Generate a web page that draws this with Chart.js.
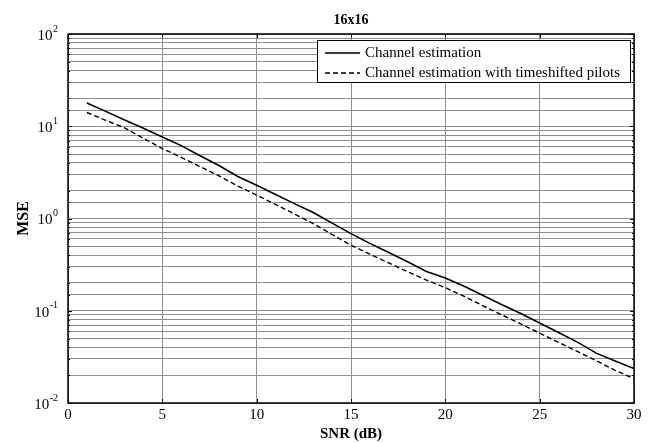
<!DOCTYPE html>
<html lang="en">
<head>
    <meta charset="UTF-8">
    <title>16x16 - MSE vs SNR</title>
    <style>
        body { margin: 0; background: #ffffff; }
        #wrap { width: 651px; height: 443px; }
    </style>
</head>
<body>
    <div id="wrap"><canvas id="mseChart" width="651" height="443"></canvas></div>

    <script src="https://cdn.jsdelivr.net/npm/chart.js@4/dist/chart.umd.min.js"></script>
    <script>
        // data
        const snr = [1, 2, 3, 4, 5, 6, 7, 8, 9, 10, 11, 12, 13, 14, 15,
                     16, 17, 18, 19, 20, 21, 22, 23, 24, 25, 26, 27, 28, 29, 30];
        const mseEstimation = [17.9, 14.5, 11.7, 9.5, 7.65, 6.17, 4.79, 3.76, 2.85, 2.29,
                               1.82, 1.45, 1.16, 0.89, 0.686, 0.537, 0.427, 0.339, 0.266, 0.226,
                               0.184, 0.146, 0.116, 0.0933, 0.0736, 0.0582, 0.0457, 0.0347, 0.0285, 0.0236];
        const mseTimeshifted = [14.1, 11.6, 9.6, 7.4, 5.73, 4.6, 3.65, 2.9, 2.25, 1.79,
                                1.42, 1.12, 0.88, 0.67, 0.513, 0.41, 0.33, 0.265, 0.215, 0.178,
                                0.143, 0.113, 0.09, 0.072, 0.0573, 0.0455, 0.0362, 0.0288, 0.0226, 0.0183];
        const seriesNames = ['Channel estimation', 'Channel estimation with timeshifted pilots'];
        const xTicks = [0, 5, 10, 15, 20, 25, 30];
        const yDecades = [-2, -1, 0, 1, 2];

        const serif = '"Liberation Serif", "Times New Roman", serif';
        const gridGray = '#8f8f8f';

        // MATLAB-ish frame: box, inward ticks, 10^n labels, title, legend
        const matlabLook = {
            id: 'matlabLook',
            afterDraw(chart) {
                const c = chart.ctx;
                const a = chart.chartArea;
                const xs = chart.scales.x, ys = chart.scales.y;
                c.save();

                // inward tick marks
                c.strokeStyle = '#000';
                c.lineWidth = 1;
                c.beginPath();
                xTicks.forEach(v => {
                    const px = Math.round(xs.getPixelForValue(v)) + 0.5;
                    c.moveTo(px, a.bottom); c.lineTo(px, a.bottom - 4);
                    c.moveTo(px, a.top); c.lineTo(px, a.top + 4);
                });
                ys.ticks.forEach(t => {
                    const py = Math.round(ys.getPixelForValue(t.value)) + 0.5;
                    const lg = Math.log10(t.value);
                    const len = Math.abs(lg - Math.round(lg)) < 1e-6 ? 4 : 2;
                    c.moveTo(a.left, py); c.lineTo(a.left + len, py);
                    c.moveTo(a.right, py); c.lineTo(a.right - len, py);
                });
                c.stroke();

                // frame
                c.lineWidth = 1.5;
                c.strokeRect(a.left, a.top, a.right - a.left, a.bottom - a.top);

                // y labels as 10 with superscript exponent
                c.fillStyle = '#000';
                c.textBaseline = 'middle';
                yDecades.forEach(e => {
                    const py = ys.getPixelForValue(Math.pow(10, e));
                    const expText = e < 0 ? '-' + Math.abs(e) : String(e);
                    c.font = '10px ' + serif;
                    c.textAlign = 'right';
                    const ew = c.measureText(expText).width;
                    const rightX = a.left - 10;
                    c.fillText(expText, rightX, py - 5);
                    c.font = '15px ' + serif;
                    c.fillText('10', rightX - ew - 0.5, py + 2);
                });

                // title
                c.font = 'bold 14px ' + serif;
                c.textAlign = 'center';
                c.fillText('16x16', (a.left + a.right) / 2, a.top - 14);

                // legend
                const lx = 317, ly = 40, lw = 313, lh = 42;
                c.fillStyle = '#fff';
                c.fillRect(lx, ly, lw, lh);
                c.strokeStyle = '#000';
                c.lineWidth = 1;
                c.strokeRect(lx + 0.5, ly + 0.5, lw, lh);
                chart.data.datasets.forEach((ds, i) => {
                    const rowY = ly + 13 + i * 20;
                    c.beginPath();
                    c.lineWidth = ds.borderWidth;
                    c.setLineDash(ds.borderDash || []);
                    c.moveTo(lx + 8, rowY); c.lineTo(lx + 43, rowY);
                    c.stroke();
                    c.setLineDash([]);
                    c.fillStyle = '#000';
                    c.font = '15px ' + serif;
                    c.textAlign = 'left';
                    c.fillText(ds.label, lx + 48, rowY);
                });
                c.restore();
            }
        };

        const ctx = document.getElementById('mseChart').getContext('2d');
        new Chart(ctx, {
            type: 'line',
            data: {
                datasets: [{
                    label: seriesNames[0],
                    data: snr.map((x, i) => ({ x: x, y: mseEstimation[i] })),
                    borderColor: '#000',
                    borderWidth: 1.6,
                    pointRadius: 0,
                    tension: 0
                }, {
                    label: seriesNames[1],
                    data: snr.map((x, i) => ({ x: x, y: mseTimeshifted[i] })),
                    borderColor: '#000',
                    borderWidth: 1.4,
                    borderDash: [5, 3],
                    pointRadius: 0,
                    tension: 0
                }]
            },
            options: {
                responsive: false,
                animation: false,
                layout: { padding: { top: 34, right: 17, left: 0, bottom: 0 } },
                plugins: { legend: { display: false }, title: { display: false }, tooltip: { enabled: false } },
                scales: {
                    x: {
                        type: 'linear',
                        min: 0, max: 30,
                        afterBuildTicks: s => { s.ticks = xTicks.map(v => ({ value: v })); },
                        afterFit: s => { s.height = 40; },
                        grid: { color: gridGray, lineWidth: 1, drawTicks: false },
                        border: { display: false },
                        ticks: { color: '#000', padding: 3, font: { family: serif, size: 15 } },
                        title: { display: true, text: 'SNR (dB)', color: '#000', padding: { top: 0, bottom: 0 }, font: { family: serif, size: 15, weight: 'bold' } }
                    },
                    y: {
                        type: 'logarithmic',
                        min: 0.01, max: 100,
                        afterFit: s => { s.width = 68; },
                        grid: { color: gridGray, lineWidth: 1, drawTicks: false },
                        border: { display: false },
                        ticks: { autoSkip: false, callback: () => '' },
                        title: { display: true, text: 'MSE', color: '#000', padding: { top: 14, bottom: 0 }, font: { family: serif, size: 16, weight: 'bold' } }
                    }
                }
            },
            plugins: [matlabLook]
        });
    </script>
</body>
</html>
